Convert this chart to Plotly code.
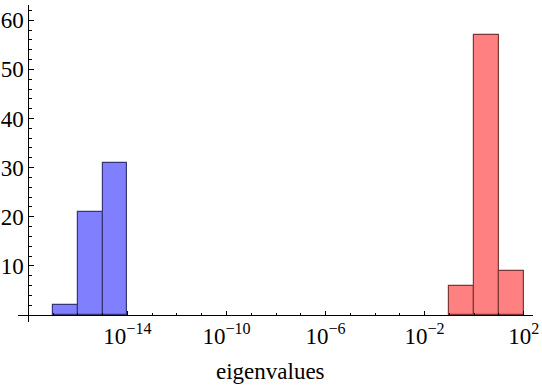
import plotly.graph_objects as go

# log10 bin edges (lower edge of each bin) and counts
blue_bin_lo = [-17, -16, -15]
blue_counts = [2, 21, 31]
red_bin_lo = [-1, 0, 1]
red_counts = [6, 57, 9]

x_tick_exps = [-14, -10, -6, -2, 2]
x_tick_text = ["10<sup>\u2212%d</sup>" % (-e) if e < 0 else "10<sup>%d</sup>" % e for e in x_tick_exps]
y_tick_vals = [10, 20, 30, 40, 50, 60]
x_label = "eigenvalues"

FONT = "'Liberation Serif', 'Times New Roman', 'DejaVu Serif', serif"

fig = go.Figure()
fig.add_trace(go.Bar(
    x=[v + 0.5 for v in blue_bin_lo], y=blue_counts, width=[1] * len(blue_bin_lo),
    marker=dict(color="rgb(128,128,255)", line=dict(color="rgb(55,55,120)", width=1.2)),
    showlegend=False))
fig.add_trace(go.Bar(
    x=[v + 0.5 for v in red_bin_lo], y=red_counts, width=[1] * len(red_bin_lo),
    marker=dict(color="rgb(255,128,128)", line=dict(color="rgb(125,55,55)", width=1.2)),
    showlegend=False))

W, H = 542, 389
L, R, T, B = 18, 9, 5, 67
plot_h = H - T - B
zero_frac = 7.0 / plot_h

fig.update_layout(
    width=W, height=H,
    margin=dict(l=L, r=R, t=T, b=B, pad=0, autoexpand=False),
    paper_bgcolor="white", plot_bgcolor="white",
    bargap=0,
    font=dict(family=FONT, size=23, color="black"),
    xaxis=dict(
        range=[-18.416, 2.376], domain=[0, 1],
        anchor="free", position=zero_frac, automargin=False,
        showgrid=False, zeroline=False,
        showline=True, linecolor="black", linewidth=1,
        tickmode="array", tickvals=x_tick_exps, ticktext=x_tick_text,
        ticks="inside", ticklen=4, tickwidth=1, tickcolor="black",
        minor=dict(tickmode="linear", tick0=0, dtick=1, ticks="inside", ticklen=2, tickcolor="black"),
        tickfont=dict(family=FONT, size=23, color="black"),
    ),
    yaxis=dict(
        range=[-1.42, 63.1], domain=[0, 1],
        anchor="free", position=(28.3 - L) / (W - L - R), automargin=False,
        showgrid=False, zeroline=False,
        showline=True, linecolor="black", linewidth=1,
        tickmode="array", tickvals=y_tick_vals,
        ticks="inside", ticklen=5, tickwidth=1, tickcolor="black",
        minor=dict(tickmode="linear", tick0=0, dtick=2, ticks="inside", ticklen=3, tickcolor="black"),
        tickfont=dict(family=FONT, size=23, color="black"),
    ),
    annotations=[dict(
        text=x_label, xref="paper", yref="paper",
        x=(270.5 - L) / (W - L - R), y=(plot_h - (372 - T)) / plot_h,
        xanchor="center", yanchor="middle", showarrow=False,
        font=dict(family=FONT, size=23, color="black"))],
)

fig.write_html("out.html", config={"displayModeBar": False},
               post_script="document.body.style.margin='0px';document.body.style.padding='0px';")
